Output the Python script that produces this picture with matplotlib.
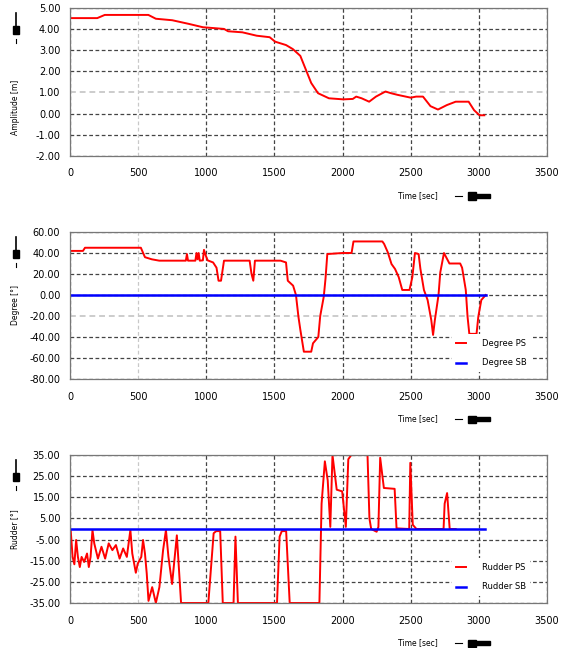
import numpy as np
import matplotlib.pyplot as plt
from matplotlib.lines import Line2D
from matplotlib.patches import Rectangle

# ---- dane ----
amp_t = [0, 200, 255, 575, 630, 750, 870, 975, 1130, 1160, 1265, 1370, 1465,
         1505, 1585, 1635, 1690, 1730, 1770, 1820, 1900, 2005, 2075, 2100,
         2140, 2195, 2245, 2315, 2355, 2405, 2500, 2540, 2590, 2645, 2700,
         2765, 2830, 2925, 2965, 3005, 3040]
amp = [4.5, 4.5, 4.65, 4.65, 4.47, 4.4, 4.23, 4.07, 3.99, 3.88, 3.83, 3.67,
       3.6, 3.39, 3.23, 3.04, 2.72, 2.08, 1.44, 0.96, 0.72, 0.67, 0.69, 0.8,
       0.72, 0.56, 0.8, 1.04, 0.96, 0.88, 0.75, 0.8, 0.8, 0.35, 0.19, 0.4,
       0.56, 0.56, 0.16, -0.08, -0.08]

deg_t = [0, 95, 110, 520, 550, 600, 655, 850, 858, 866, 920, 928, 936, 944,
         952, 975, 983, 995, 1010, 1050, 1075, 1090, 1108, 1130, 1318, 1332,
         1345, 1357, 1545, 1585, 1598, 1637, 1658, 1676, 1690, 1716, 1770,
         1783, 1822, 1836, 1862, 1875, 1888, 2000, 2066, 2080, 2292, 2305,
         2332, 2359, 2385, 2412, 2438, 2491, 2512, 2531, 2558, 2571, 2597,
         2624, 2651, 2664, 2677, 2704, 2717, 2744, 2784, 2863, 2877, 2904,
         2917, 2930, 2983, 2996, 3018, 3050]
deg_ps = [42, 42, 45, 45, 36, 34, 32.7, 32.7, 39, 32.7, 32.7, 40, 34, 40,
          32.7, 33, 43, 38, 33, 31, 26, 13.6, 13.6, 32.7, 32.7, 20, 13.6,
          32.7, 32.7, 31, 13.6, 8.9, 0, -20.6, -33, -54, -54, -46, -40, -20,
          -1.6, 15.8, 39, 40, 40, 51, 51, 48.6, 40.6, 29.5, 24.8, 17, 4.8,
          4.8, 17, 40, 39, 25, 4.8, -4.8, -24, -38, -24, 0, 21.6, 40, 30, 30,
          26, 4.8, -20.6, -37, -37, -20.6, -4.8, 0]
deg_sb_t = [0, 3050]
deg_sb = [0, 0]

rud_t = [5, 19, 32, 45, 58, 72, 85, 104, 125, 138, 151, 165, 178, 191, 205,
         231, 258, 284, 311, 337, 364, 390, 417, 443, 457, 483, 497, 523, 536,
         550, 563, 576, 603, 630, 656, 683, 704, 722, 749, 784, 815, 1015,
         1054, 1073, 1102, 1121, 1200, 1214, 1232, 1519, 1538, 1554, 1586,
         1612, 1830, 1846, 1870, 1891, 1910, 1926, 1957, 1997, 2024, 2042,
         2064, 2183, 2197, 2210, 2250, 2263, 2276, 2303, 2382, 2396, 2489,
         2497, 2515, 2542, 2741, 2749, 2767, 2786, 2830]
rud_ps = [-0.5, -13.2, -16.7, -5.2, -13.2, -18, -13.2, -15.6, -11.6, -18,
          -13.2, -0.5, -6.8, -10.3, -14, -8.4, -14, -6.8, -10, -7.6, -14, -9.2,
          -13.2, -0.5, -11.6, -20.7, -16.4, -13.2, -5.2, -11.6, -21, -34,
          -27.5, -35, -27.5, -10, -0.5, -13, -26, -3, -35, -35, -2, -1, -1,
          -35, -35, -3.6, -35, -35, -3.6, -1, -1, -35, -35, 12, 32, 23, 1, 35,
          18.6, 17.8, 1, 33, 35, 35, 5, 0, -1.3, 1, 33.7, 19.4, 19, 0.3, 0,
          31.3, 2, 0, 0, 12, 17, 0, 0]
rud_sb_t = [0, 3046]
rud_sb = [0, 0]

x_ticks = [0, 500, 1000, 1500, 2000, 2500, 3000, 3500]
amp_ticks = [-2, -1, 0, 1, 2, 3, 4, 5]
deg_ticks = [-80, -60, -40, -20, 0, 20, 40, 60]
rud_ticks = [-35, -25, -15, -5, 5, 15, 25, 35]

W, H = 569, 648
fig = plt.figure(figsize=(W / 100, H / 100), dpi=100)


def px(x, y):
    # piksele (od lewej, od góry) -> ułamki figury
    return x / W, 1 - y / H


def rysuj_panel(top, bottom, yticks, ylabel, light_y):
    ax = fig.add_axes([70 / W, 1 - bottom / H, 477 / W, (bottom - top) / H])
    ax.set_xlim(0, 3500)
    ax.set_ylim(yticks[0], yticks[-1])
    ax.set_xticks(x_ticks)
    ax.set_yticks(yticks)
    ax.set_xticklabels([str(v) for v in x_ticks])
    ax.set_yticklabels([f"{v:.2f}" for v in yticks])
    ax.tick_params(length=0, labelsize=7, colors="black")
    ax.tick_params(axis="y", pad=7)
    ax.tick_params(axis="x", pad=9)
    ax.grid(True, color="#444444", linestyle=(0, (3, 2)), linewidth=0.9)
    for i, gl in enumerate(ax.get_xgridlines()):
        if x_ticks[i] == 500:
            gl.set_color("#c8c8c8")
    for i, gl in enumerate(ax.get_ygridlines()):
        if yticks[i] == light_y:
            gl.set_color("#cccccc")
            gl.set_linewidth(1.4)
    ax.set_axisbelow(True)
    for s in ax.spines.values():
        s.set_color("#777777")
        s.set_linewidth(0.9)

    # ikony osi i opisy
    fig.text(*px(15, (top + bottom) / 2 if top > 100 else 107), ylabel,
             rotation=90, ha="center", va="center", fontsize=5.5)
    fig.add_artist(Line2D(*zip(px(16, top + 5), px(16, top + 18)),
                          color="black", lw=1.2))
    x0, y0 = px(13, top + 26)
    fig.add_artist(Rectangle((x0, y0), 6 / W, 8 / H, color="black",
                             transform=fig.transFigure))
    fig.add_artist(Line2D(*zip(px(16, top + 31), px(16, top + 35)),
                          color="black", lw=0.8))

    yt = bottom + 40
    fig.text(*px(418, yt), "Time [sec]", ha="center", va="center", fontsize=5.5)
    fig.add_artist(Line2D(*zip(px(455, yt), px(462, yt)), color="black", lw=0.8))
    x0, y0 = px(468, yt + 3.5)
    fig.add_artist(Rectangle((x0, y0), 8 / W, 7 / H, color="black",
                             transform=fig.transFigure))
    x0, y0 = px(475, yt + 1.8)
    fig.add_artist(Rectangle((x0, y0), 15 / W, 3.6 / H, color="black",
                             transform=fig.transFigure))
    return ax


ax1 = rysuj_panel(7.5, 156, amp_ticks, "Amplitude [m]", 1)
ax1.plot(amp_t, amp, color="red", lw=1.4)

leg_kw = dict(loc="lower left", bbox_to_anchor=(0.80, 0.05), fontsize=6,
              handlelength=1.2, handletextpad=1.9, labelspacing=1.3,
              borderpad=0.5, borderaxespad=0, frameon=True, facecolor="white",
              edgecolor="none", framealpha=1)

ax2 = rysuj_panel(232, 379, deg_ticks, "Degree [°]", -20)
ax2.plot(deg_t, deg_ps, color="red", lw=1.4, label="Degree PS")
ax2.plot(deg_sb_t, deg_sb, color="blue", lw=1.8, label="Degree SB")
ax2.legend(**leg_kw)

ax3 = rysuj_panel(455, 603, rud_ticks, "Rudder [°]", None)
ax3.plot(rud_t, rud_ps, color="red", lw=1.4, label="Rudder PS")
ax3.plot(rud_sb_t, rud_sb, color="blue", lw=1.8, label="Rudder SB")
ax3.legend(**leg_kw)

fig.savefig("out.png", dpi=100)
